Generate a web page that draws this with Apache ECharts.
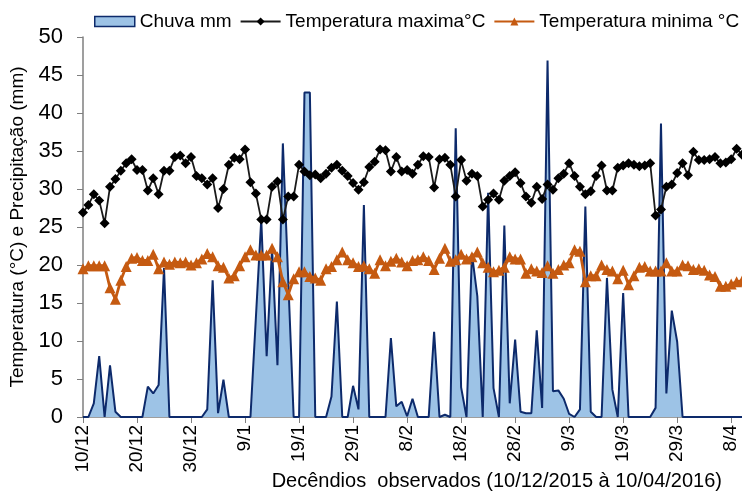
<!DOCTYPE html>
<html>
<head>
<meta charset="utf-8">
<script src="https://cdn.jsdelivr.net/npm/echarts@6/dist/echarts.min.js"></script>
<style>
html,body{margin:0;padding:0;background:#fff;}
#chart{width:742px;height:491px;}
</style>
</head>
<body>
<div id="chart"></div>
<script>
// Tick labels every 10 days (decêndios)
var tickLabels = ["10/12","20/12","30/12","9/1","19/1","29/1","8/2","18/2","28/2","9/3","19/3","29/3","8/4"];

// Daily rain (mm), 10/12/2015 .. 10/04/2016
var chuva = [
 0,0,1.8,8.0,0,6.8,0.7,0,0,0,
 0,0,4.0,3.1,4.2,19.6,0,0,0,0,
 0,0,0,1.0,18.0,0.5,4.9,0,0,0,
 0,0,13,26.0,8.0,22.2,6.8,36.0,18,0,
 0,42.7,42.7,0,0,0,2.7,15.2,0,0,
 4.1,1.0,27.9,0,0,0,0,10.4,1.4,2.0,
 0.1,2.4,0,0,0,11.2,0,0.3,0,38.0,
 3.9,0,21.5,15.9,0,29.5,3.8,0,25.2,1.8,
 10.2,0.7,0.5,0.5,11.4,1.2,46.9,3.4,3.5,2.4,
 0.4,0,1.0,27.7,0.7,0,0,18.3,3.6,0,
 16.3,0,0,0,0,0,1.2,38.6,3.1,14.0,
 9.9,0,0,0,0,0,0,0,0,0,
 0,0,0
];

// Daily maximum temperature (°C)
var tmax = [
 26.9,27.9,29.3,28.5,25.5,30.3,31.3,32.4,33.4,33.9,
 32.5,32.5,29.8,31.4,29.3,32.4,32.4,34.2,34.4,33.4,
 34.2,31.7,31.4,30.6,31.4,27.5,30.0,33.2,34.1,33.9,
 35.2,30.9,29.4,26.0,26.0,30.3,31.0,26.0,29.0,29.0,
 33.2,32.3,31.8,31.9,31.4,32.0,32.8,33.2,32.4,31.7,
 30.8,29.9,30.9,32.9,33.6,35.2,35.1,32.3,34.2,32.3,
 32.5,32.0,33.2,34.3,34.2,30.2,33.9,34.1,33.2,29.0,
 33.8,31.1,32.0,31.7,27.7,28.6,29.4,28.6,31.1,31.7,
 32.2,30.8,29.0,28.2,30.3,28.7,30.6,29.9,31.4,32.0,
 33.4,31.7,30.3,29.3,29.7,31.7,33.1,29.8,29.8,32.8,
 33.1,33.4,33.2,33.0,33.1,33.4,26.5,27.3,30.3,30.6,
 32.1,33.4,31.8,34.9,33.8,33.8,33.9,34.2,33.4,33.5,
 33.9,35.3,34.5
];

// Daily minimum temperature (°C)
var tmin = [
 19.5,19.9,19.9,19.9,19.9,17.0,15.5,18.0,19.8,20.9,
 21.0,20.6,20.6,21.4,19.5,20.4,20.1,20.4,20.3,20.4,
 20.0,20.3,20.8,21.5,21.1,19.9,19.7,18.3,18.6,19.9,
 21.1,22.0,21.3,21.3,21.3,22.2,21.1,17.8,16.1,18.2,
 19.1,19.1,18.5,18.3,18.0,19.5,19.8,20.7,21.7,20.7,
 20.3,19.8,19.9,19.5,18.9,20.7,19.9,20.5,20.9,20.4,
 19.9,20.6,20.7,21.1,20.6,19.4,20.9,22.2,20.5,20.7,
 21.4,20.8,21.1,21.7,20.3,19.7,19.1,19.3,19.7,21.1,
 20.8,20.8,18.9,19.5,19.2,19.0,19.9,18.9,19.4,20.0,
 20.3,22.0,21.8,17.8,18.6,18.6,20.0,19.4,19.2,18.2,
 19.3,17.4,18.6,19.7,19.8,19.2,19.2,19.2,20.3,19.2,
 19.2,20.0,19.9,19.4,19.5,19.3,18.7,18.5,17.2,17.2,
 17.5,17.8,17.9
];

var seriesNames = ["Chuva mm","Temperatura maxima°C","Temperatura minima °C"];
var xTitle = "Decêndios  observados (10/12/2015 à 10/04/2016)";
var yTitle = "Temperatura (°C) e Precipitação (mm)";

// category per day
var categories = [];
var d0 = new Date(2015, 11, 10);
for (var i = 0; i < chuva.length; i++) {
  var d = new Date(d0.getFullYear(), d0.getMonth(), d0.getDate() + i);
  categories.push(d.getDate() + "/" + (d.getMonth() + 1));
}

var FONT = "Liberation Sans, Arial, sans-serif";
var chart = echarts.init(document.getElementById('chart'), null, {renderer:'canvas'});
chart.setOption({
  animation: false,
  backgroundColor: '#fff',
  textStyle: {fontFamily: FONT},
  legend: {
    left: 89, top: 7, width: 700,
    itemWidth: 40, itemHeight: 10, itemGap: 8,
    textStyle: {fontFamily: FONT, fontSize: 19, color: '#000'},
    data: [
      {name: seriesNames[0], icon: 'rect', itemStyle: {color: '#9DC3E6', borderColor: '#0D2A6B', borderWidth: 1.5}},
      {name: seriesNames[1]},
      {name: seriesNames[2]}
    ]
  },
  grid: {left: 83, top: 37, bottom: 74, width: 661},
  xAxis: {
    type: 'category',
    data: categories,
    boundaryGap: false,
    axisLine: {lineStyle: {color: '#7f7f7f', width: 1.5}},
    axisTick: {interval: 9, length: 6, lineStyle: {color: '#7f7f7f'}},
    axisLabel: {
      interval: 9, rotate: 90, margin: 8,
      fontFamily: FONT, fontSize: 19, color: '#000',
      formatter: function (v, idx) { return tickLabels[Math.round(idx / 10)] || ''; }
    },
    splitLine: {show: false}
  },
  yAxis: {
    type: 'value', min: 0, max: 50, interval: 5,
    name: yTitle, nameLocation: 'middle', nameGap: 53, nameRotate: 90,
    nameTextStyle: {fontFamily: FONT, fontSize: 19, color: '#000'},
    axisLine: {show: true, lineStyle: {color: '#7f7f7f', width: 1.5}},
    axisTick: {show: true, length: 6, lineStyle: {color: '#7f7f7f'}},
    axisLabel: {margin: 20, fontFamily: FONT, fontSize: 22, color: '#000'},
    splitLine: {show: false}
  },
  graphic: [{
    type: 'text', right: 20, bottom: 0,
    style: {text: xTitle, font: '20px ' + FONT, fill: '#000'}
  }],
  series: [
    {
      name: seriesNames[0], type: 'line', data: chuva, z: 1,
      symbol: 'none',
      itemStyle: {color: '#9DC3E6'},
      lineStyle: {color: '#0D2A6B', width: 2},
      areaStyle: {color: '#9DC3E6', opacity: 1}
    },
    {
      name: seriesNames[1], type: 'line', data: tmax, z: 3,
      symbol: 'diamond', symbolSize: 10, showAllSymbol: true,
      itemStyle: {color: '#000'},
      lineStyle: {color: '#1a1a1a', width: 1.8}
    },
    {
      name: seriesNames[2], type: 'line', data: tmin, z: 2,
      symbol: 'triangle', symbolSize: 11, showAllSymbol: true,
      itemStyle: {color: '#C55A11'},
      lineStyle: {color: '#C55A11', width: 2.8}
    }
  ]
});
</script>
</body>
</html>
